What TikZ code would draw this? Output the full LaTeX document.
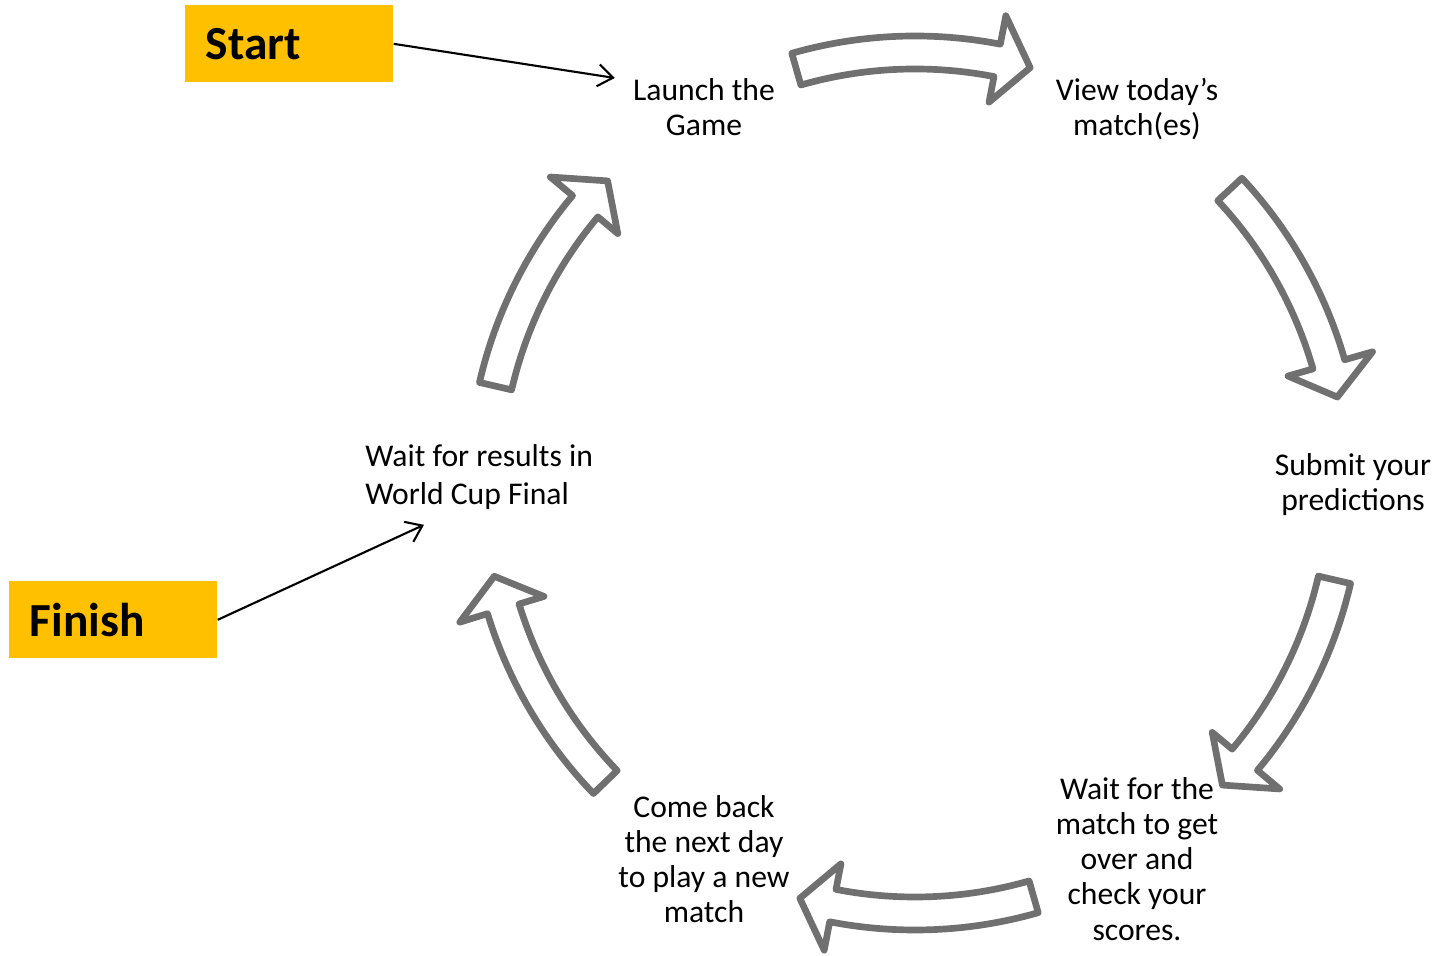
\documentclass[tikz,border=0pt]{standalone}
\usepackage{fontspec}
\setmainfont{Carlito}
\usepackage{tikz}
\usetikzlibrary{arrows.meta}
\definecolor{boxorange}{RGB}{255,192,0}
\definecolor{arrowgrey}{RGB}{112,112,112}

\begin{document}
\begin{tikzpicture}[x=0.02cm, y=0.02cm,
    stage/.style={inner sep=0pt, align=center, font=\fontsize{18}{20}\selectfont},
    endbox/.style={fill=boxorange, anchor=north west, minimum height=1.54cm,
      text width=3.34cm, inner xsep=0.41cm, inner ysep=0pt, align=left,
      font=\fontsize{27}{30}\selectfont\bfseries},
    cyclearrow/.style={draw=arrowgrey, fill=white, line width=3.8pt, line join=round},
    pointer/.style={-{Straight Barb[length=0.3cm,width=0.44cm]}, line width=1.2pt}]
        \useasboundingbox (0,0) rectangle (1437,956);
        % the steps of the game
        \node[stage] (launch) at (704,849) {Launch the\\Game};
        \node[stage] (view) at (1137,847) {View today’s\\match(es)};
        \node[stage] (submit) at (1353,471) {Submit your\\predictions};
        \node[stage] (over) at (1137,97) {Wait for the\\match to get\\over and\\check your\\scores.};
        \node[stage] (comeback) at (704,97) {Come back\\the next day\\to play a new\\match};
        \node[stage, anchor=west, align=left, font=\fontsize{18}{21.6}\selectfont] (final) at (365,479) {Wait for results in\\World Cup Final};
        % start and finish
        \node[endbox] (start) at (185,951) {Start};
        \node[endbox] (finish) at (9,375) {Finish};
        \draw[pointer] (start.east) -- ([xshift=-0.36cm]launch.north west);
        \draw[pointer] (finish.east) -- ([xshift=1.18cm,yshift=-0.3cm]final.south west);
        % curved block arrows round the cycle
        \foreach \a in {106, 43, -13, -74, -136, 167}
        \draw[cyclearrow, shift={(915,473)}]
            (\a:447) arc[start angle=\a, end angle=\a-27, radius=447]
            -- (\a-27:476) -- (\a-31.5:431) -- (\a-27:388) -- (\a-27:414)
            arc[start angle=\a-27, end angle=\a, radius=414] -- cycle;
\end{tikzpicture}
\end{document}
